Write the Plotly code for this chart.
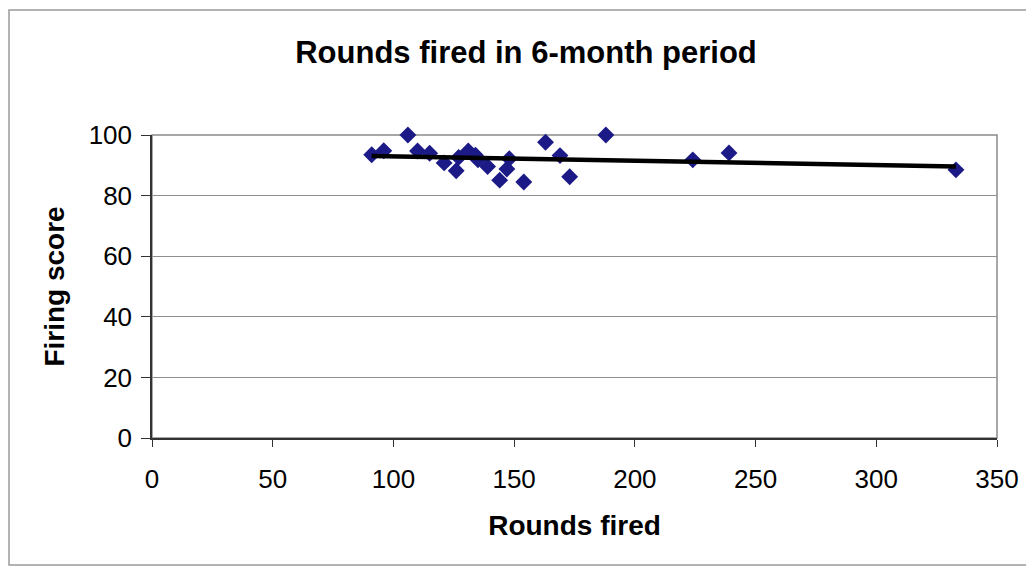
import numpy as np
import plotly.graph_objects as go

rounds_fired = [91, 96, 106, 110, 115, 121, 126, 127, 131, 134, 135, 139, 144, 147, 148, 154, 163, 169, 173, 188, 224, 239, 333]
firing_score = [93.5, 94.8, 100, 94.7, 94, 90.8, 88.2, 92.6, 94.7, 93.3, 91.8, 89.6, 85.1, 88.8, 92.2, 84.5, 97.6, 93.2, 86.2, 100, 91.8, 94.1, 88.5]

x_ticks = [0, 50, 100, 150, 200, 250, 300, 350]
y_ticks = [0, 20, 40, 60, 80, 100]

slope, intercept = np.polyfit(rounds_fired, firing_score, 1)
trend_x = [min(rounds_fired), max(rounds_fired)]
trend_y = [slope * v + intercept for v in trend_x]

font_family = "Liberation Sans, Arial, sans-serif"

# page body has an 8px margin, so figure coordinates are page coordinates minus 8
W, H = 1026, 561
L, R, T, B = 144, 989, 127, 430  # plot area in figure pixels
pw, ph = R - L, B - T

fig = go.Figure()
fig.add_trace(go.Scatter(
    x=rounds_fired, y=firing_score, mode="markers",
    marker=dict(symbol="diamond", size=13, color="#1c1a86"),
    showlegend=False, cliponaxis=False,
))
fig.add_trace(go.Scatter(
    x=trend_x, y=trend_y, mode="lines",
    line=dict(color="black", width=4.5),
    showlegend=False, cliponaxis=False,
))

fig.update_layout(
    width=W, height=H,
    margin=dict(l=L, r=W - R, t=T, b=H - B),
    paper_bgcolor="white", plot_bgcolor="white",
    font=dict(family=font_family, color="black"),
    title=dict(text="<b>Rounds fired in 6-month period</b>", x=518 / W, xanchor="center",
               y=1 - 44 / H, yanchor="middle", xref="container", yref="container",
               font=dict(size=31, family=font_family)),
    xaxis=dict(range=[0, 350], tickvals=x_ticks, showgrid=False, zeroline=False,
               showline=True, linecolor="#333", linewidth=1.5,
               ticks="outside", ticklen=7, tickcolor="#333", ticklabelstandoff=10,
               tickfont=dict(size=26), title=dict(text="<b>Rounds fired</b>", font=dict(size=28), standoff=22)),
    yaxis=dict(range=[0, 100], tickvals=y_ticks, showgrid=True, gridcolor="#8f8f8f", gridwidth=1,
               zeroline=False, showline=True, linecolor="#333", linewidth=1.5,
               ticks="outside", ticklen=9, tickcolor="#333", ticklabelstandoff=4,
               tickfont=dict(size=26), title=dict(text="<b>Firing score</b>", font=dict(size=28), standoff=16)),
    shapes=[
        dict(type="rect", xref="paper", yref="paper", x0=0, x1=1, y0=0, y1=1,
             line=dict(color="#8a8a8a", width=1.5), layer="below"),
        dict(type="rect", xref="paper", yref="paper",
             x0=(1 - L) / pw, x1=(1022 - L) / pw,
             y0=(B - 557) / ph, y1=(B - 2) / ph,
             line=dict(color="#9a9a9a", width=1.5), layer="below"),
    ],
)

fig.write_html("out.html")
